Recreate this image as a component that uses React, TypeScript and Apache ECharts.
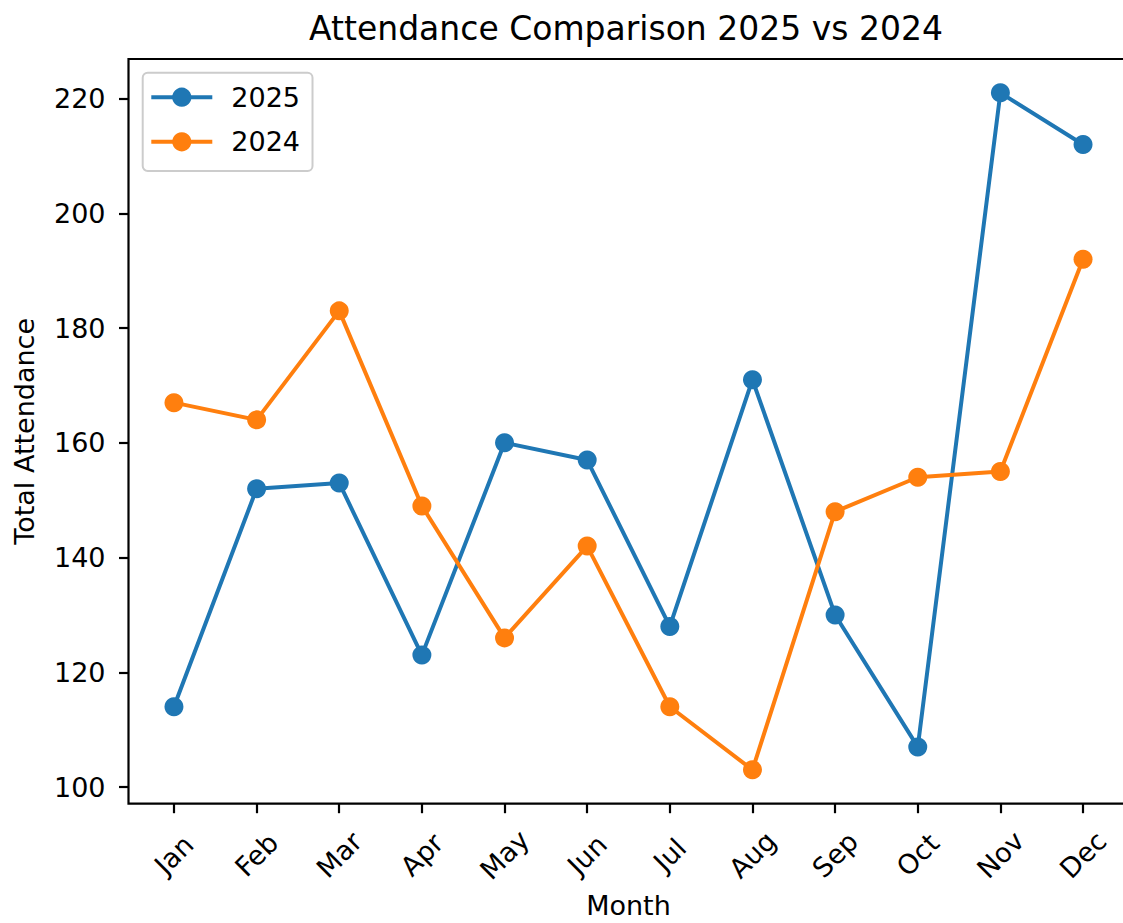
import React, { useEffect, useRef } from "react";
import * as echarts from "echarts";

const months = ["Jan", "Feb", "Mar", "Apr", "May", "Jun", "Jul", "Aug", "Sep", "Oct", "Nov", "Dec"];
const attendance2025 = [114, 152, 153, 123, 160, 157, 128, 171, 130, 107, 221, 212];
const attendance2024 = [167, 164, 183, 149, 126, 142, 114, 103, 148, 154, 155, 192];
const yTicks = [100, 120, 140, 160, 180, 200, 220];
const xTicks = months.map((_, i) => i);

const FONT = "DejaVu Sans";

export default function App() {
  const ref = useRef<HTMLDivElement>(null);
  useEffect(() => {
    if (!ref.current) return;
    const chart = echarts.init(ref.current, null, { renderer: "svg" });
    const tickStyle = { show: true, length: 9.5, inside: false, lineStyle: { color: "#000", width: 2.2 } };
    chart.setOption({
      animation: false,
      backgroundColor: "#fff",
      graphic: [
        {
          type: "text",
          x: 626,
          y: 28,
          style: {
            text: "Attendance Comparison 2025 vs 2024",
            font: `33px "${FONT}"`,
            fill: "#000",
            textAlign: "center",
            textVerticalAlign: "middle",
          },
        },
      ],
      legend: {
        orient: "vertical",
        left: 142.7,
        top: 72.7,
        padding: [11, 12.5, 15.7, 6.6],
        itemWidth: 61,
        itemHeight: 24,
        itemGap: 17.6,
        borderColor: "#cccccc",
        borderWidth: 2,
        borderRadius: 5,
        backgroundColor: "rgba(255,255,255,0.8)",
        lineStyle: { width: 4 },
        textStyle: { fontFamily: FONT, fontSize: 27, color: "#000", padding: [0, 0, 0, 14] },
        data: ["2025", "2024"],
      },
      grid: {
        left: 128.5,
        top: 59,
        width: 1000,
        height: 744.7,
        outerBoundsMode: "none",
        containLabel: false,
        show: true,
        borderColor: "#000",
        borderWidth: 2.2,
        backgroundColor: "transparent",
      },
      xAxis: {
        type: "value",
        min: -0.55,
        max: 11.55,
        name: "Month",
        nameLocation: "middle",
        nameGap: 91.5,
        nameTextStyle: { fontFamily: FONT, fontSize: 27, color: "#000", lineHeight: 20 },
        axisLine: { show: false, onZero: false },
        splitLine: { show: false },
        axisTick: { ...tickStyle, customValues: xTicks },
        axisLabel: {
          customValues: xTicks,
          formatter: (v: number) => months[Math.round(v)],
          rotate: 45,
          align: "center",
          verticalAlign: "middle",
          margin: 51,
          fontFamily: FONT,
          fontSize: 27,
          color: "#000",
        },
      },
      yAxis: {
        type: "value",
        min: 97.1,
        max: 226.9,
        name: "Total Attendance",
        nameLocation: "middle",
        nameGap: 91,
        nameTextStyle: { fontFamily: FONT, fontSize: 27, color: "#000" },
        axisLine: { show: false, onZero: false },
        splitLine: { show: false },
        axisTick: { ...tickStyle, customValues: yTicks },
        axisLabel: {
          customValues: yTicks,
          margin: 23,
          fontFamily: FONT,
          fontSize: 27,
          color: "#000",
        },
      },
      series: [
        {
          name: "2025",
          type: "line",
          data: attendance2025.map((v, i) => [i, v]),
          symbol: "circle",
          symbolSize: 19,
          showSymbol: true,
          color: "#1f77b4",
          lineStyle: { width: 4, color: "#1f77b4" },
          itemStyle: { color: "#1f77b4" },
        },
        {
          name: "2024",
          type: "line",
          data: attendance2024.map((v, i) => [i, v]),
          symbol: "circle",
          symbolSize: 19,
          showSymbol: true,
          color: "#ff7f0e",
          lineStyle: { width: 4, color: "#ff7f0e" },
          itemStyle: { color: "#ff7f0e" },
        },
      ],
    });
    return () => chart.dispose();
  }, []);
  return (
    <div
      ref={ref}
      style={{ position: "absolute", left: 0, top: 0, width: 1123, height: 923 }}
    />
  );
}
